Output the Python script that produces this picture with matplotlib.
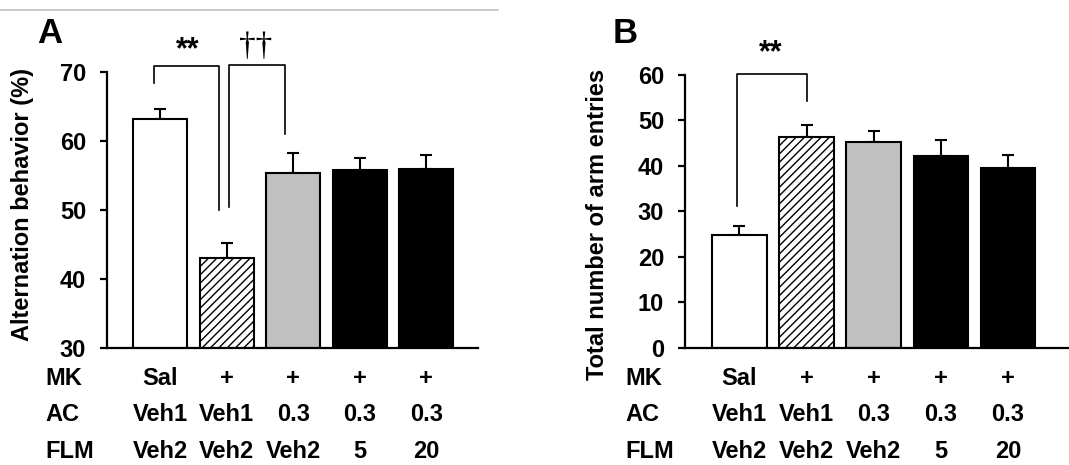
import matplotlib
matplotlib.use("Agg")
import matplotlib.pyplot as plt
import matplotlib.transforms as mtransforms

plt.rcParams['font.family'] = ['Liberation Sans', 'DejaVu Sans']
plt.rcParams['font.weight'] = 'bold'

# data
alt_mean = [63.2, 43.1, 55.4, 55.8, 55.9]
alt_err = [1.5, 2.1, 2.8, 1.8, 2.0]
arm_mean = [24.8, 46.4, 45.3, 42.2, 39.5]
arm_err = [2.0, 2.5, 2.4, 3.5, 2.8]

row_names = ['MK', 'AC', 'FLM']
mk_row = ['Sal', '+', '+', '+', '+']
ac_row = ['Veh1', 'Veh1', '0.3', '0.3', '0.3']
flm_row = ['Veh2', 'Veh2', 'Veh2', '5', '20']

fills = ['white', 'white', '#c0c0c0', 'black', 'black']
hatches = [None, '////', None, None, None]

W, H = 1069, 465
fig = plt.figure(figsize=(W / 100, H / 100), dpi=100)
plt.rcParams['hatch.linewidth'] = 1.0

axA = fig.add_axes([107 / W, 1 - 348 / H, 371 / W, 276 / H])
axB = fig.add_axes([685 / W, 1 - 347.7 / H, 384 / W, 272.7 / H])

row_y = [0.186, 0.108, 0.028]


def draw_panel(ax, means, errs, ylim, yticks, ylabel, label_x):
    x = range(len(means))
    ax.bar(x, means, width=0.81, color=fills, edgecolor='black', linewidth=1.5,
           hatch=hatches, zorder=2)
    ax.errorbar(x, means, yerr=[[0] * len(errs), errs], fmt='none', ecolor='black',
                elinewidth=1.5, capsize=4, capthick=1.5, zorder=1)
    ax.set_ylim(*ylim)
    ax.set_yticks(yticks)
    ax.spines['top'].set_visible(False)
    ax.spines['right'].set_visible(False)
    ax.spines['left'].set_linewidth(1.6)
    ax.spines['bottom'].set_linewidth(1.6)
    ax.tick_params(axis='y', length=5, width=1.6, pad=10, labelsize=17)
    ax.tick_params(axis='x', length=0, labelbottom=False)
    ax.set_ylabel(ylabel, fontsize=17, fontweight='bold', va='center')
    ax.yaxis.set_label_coords(label_x, 0.5)
    for lab in ax.get_yticklabels():
        lab.set_fontweight('bold')
    # treatment table under the bars
    tr = mtransforms.blended_transform_factory(ax.transData, fig.transFigure)
    for row, ypos in zip([mk_row, ac_row, flm_row], row_y):
        for i, t in enumerate(row):
            ax.text(i, ypos, t, transform=tr, ha='center', va='center',
                    fontsize=17, fontweight='bold')


draw_panel(axA, alt_mean, alt_err, (30, 70), [30, 40, 50, 60, 70],
           'Alternation behavior (%)', (23 - 107) / 371)
axA.set_xlim(-0.8, 4.78)
axA.yaxis.label.set_position((0, (210 - 5.5 - 72) / 276))
draw_panel(axB, arm_mean, arm_err, (0, 60), [0, 10, 20, 30, 40, 50, 60],
           'Total number of arm entries', (598 - 685) / 384)
axB.set_xlim(-0.81, 4.91)
axA.yaxis.set_label_coords((23 - 107) / 371, 1 - (204.5 - 72) / 276)
axB.yaxis.set_label_coords((598 - 685) / 384, 1 - (224 - 75) / 272.7)

for xpos in [45 / W, 625 / W]:
    for name, ypos in zip(row_names, row_y):
        fig.text(xpos, ypos, name, ha='left', va='center', fontsize=17,
                 fontweight='bold')

# significance brackets
axA.plot([-0.09, -0.09, 0.89, 0.89], [68.45, 70.9, 70.9, 50.0], color='black',
         lw=1.2, clip_on=False)
axA.plot([1.04, 1.04, 1.88, 1.88], [50.4, 71.0, 71.0, 61.0], color='black',
         lw=1.2, clip_on=False)
axA.text(0.42, 73.2, '**', ha='center', va='center', fontsize=22, fontweight='bold')
axA.text(1.43, 73.6, '\u2020\u2020', ha='center', va='center', fontsize=24,
         fontweight='normal', family='Liberation Serif')

axB.plot([-0.04, -0.04, 1.0, 1.0], [31.2, 60.2, 60.2, 54.3], color='black',
         lw=1.2, clip_on=False)
axB.text(0.47, 64.8, '**', ha='center', va='center', fontsize=22, fontweight='bold')

fig.text(37 / W, 1 - 43 / H, 'A', fontsize=25, fontweight='bold', ha='left',
         va='baseline')
fig.text(613 / W, 1 - 43 / H, 'B', fontsize=25, fontweight='bold', ha='left',
         va='baseline')

# thin grey rule at the top left
fig.add_artist(plt.Line2D([0, 498 / W], [1 - 10.5 / H, 1 - 10.5 / H],
                          color='#c0c0c0', lw=1.2, transform=fig.transFigure))

fig.savefig('out.png', dpi=100)
